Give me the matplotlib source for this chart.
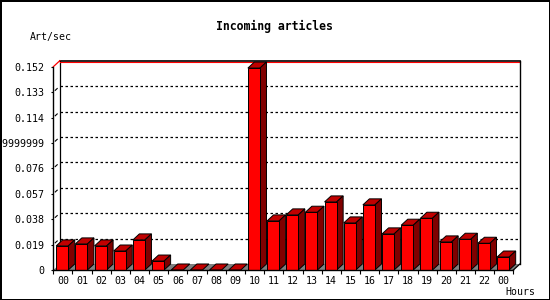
import matplotlib
matplotlib.use('Agg')
import matplotlib.pyplot as plt
from matplotlib.patches import Polygon, Rectangle

hours = ['00', '01', '02', '03', '04', '05', '06', '07', '08', '09', '10', '11',
         '12', '13', '14', '15', '16', '17', '18', '19', '20', '21', '22', '00']
rates = [0.018, 0.0195, 0.018, 0.0142, 0.0225, 0.0067, 0, 0, 0, 0, 0.151, 0.0367,
         0.0412, 0.0432, 0.0509, 0.0352, 0.0487, 0.027, 0.0335, 0.0387, 0.021, 0.023,
         0.020, 0.0097]
yticks = [0, 0.019, 0.038, 0.057, 0.076, 0.095, 0.114, 0.133, 0.152]
ylabels = ['0', '0.019', '0.038', '0.057', '0.076', '0.09499999999999999',
           '0.114', '0.133', '0.152']

mono = 'DejaVu Sans Mono'
n = len(rates)
ymax = yticks[-1]
dx = 0.34      # depth in category units
dy = 0.0045    # depth in value units

fig = plt.figure(figsize=(5.5, 3), dpi=100, edgecolor='black', linewidth=2)
ax = fig.add_axes([53.3/550, 30/300, 466.6/550, 209.3/300])
ax.set_xlim(0, n + dx)
ax.set_ylim(0, ymax + dy)
for s in ax.spines.values():
    s.set_visible(False)

# back plane grid
for v in yticks[1:-1]:
    ax.plot([dx, n + dx], [v + dy, v + dy], color='black', lw=0.9,
            linestyle=(0, (2, 2)), zorder=1)
    ax.plot([dx*0.3, dx*0.6], [v + dy*0.3, v + dy*0.6], color='black', lw=0.8, zorder=1)
ax.plot([dx, n + dx], [ymax + dy, ymax + dy], color='black', lw=1.2, zorder=2, clip_on=False)
ax.plot([dx, n + dx], [ymax + dy*0.85, ymax + dy*0.85], color='red', lw=0.8, zorder=2, clip_on=False)
ax.plot([0, dx], [ymax, ymax + dy], color='red', lw=0.9, zorder=2, clip_on=False)
ax.plot([dx, dx], [dy, ymax + dy], color='black', lw=0.9, zorder=1)
ax.plot([n + dx, n + dx], [dy, ymax + dy], color='black', lw=1, zorder=2, clip_on=False)

# floor
ax.add_patch(Polygon([(0, 0), (n, 0), (n + dx, dy), (dx, dy)], closed=True,
                     facecolor='#808080', edgecolor='none', zorder=2))
ax.plot([n, n + dx], [0, dy], color='black', lw=0.9, zorder=5, clip_on=False)

# 3d bars
off, w = 0.15, 0.63
for i, v in enumerate(rates):
    x0 = i + off
    ax.add_patch(Polygon([(x0, v), (x0 + w, v), (x0 + w + dx, v + dy), (x0 + dx, v + dy)],
                         closed=True, facecolor='#c00000', edgecolor='black', lw=0.7, zorder=3))
    if v > 0:
        ax.add_patch(Polygon([(x0 + w, 0), (x0 + w + dx, dy), (x0 + w + dx, v + dy), (x0 + w, v)],
                             closed=True, facecolor='#800000', edgecolor='black', lw=0.7, zorder=3))
        ax.add_patch(Rectangle((x0, 0), w, v, facecolor='#ff0000', edgecolor='black',
                               lw=0.7, zorder=4))

# front axes
ax.plot([0, 0], [0, ymax], color='black', lw=1, zorder=5, clip_on=False)
ax.plot([0, n], [0, 0], color='black', lw=1, zorder=5, clip_on=False)

ax.set_yticks(yticks)
ax.set_yticklabels(ylabels, fontfamily=mono, fontsize=7.2)
ax.tick_params(axis='y', direction='out', length=1.6, width=0.8, pad=4.5)
ax.set_xticks([i + 0.5 for i in range(n)])
ax.set_xticklabels(hours, fontfamily=mono, fontsize=7.2)
ax.set_xticks(range(n + 1), minor=True)
ax.tick_params(axis='x', which='major', length=0, pad=4.5)
ax.tick_params(axis='x', which='minor', direction='out', length=3, width=0.8)

fig.text(274/550, 1 - 26.7/300, 'Incoming articles', ha='center', va='center',
         fontfamily=mono, fontsize=8.3, fontweight='bold')
fig.text(30/550, 1 - 37/300, 'Art/sec', ha='left', va='center', fontfamily=mono, fontsize=7.1)
fig.text(505/550, 1 - 292/300, 'Hours', ha='left', va='center', fontfamily=mono, fontsize=7.1)

fig.savefig('out.png', dpi=100)
